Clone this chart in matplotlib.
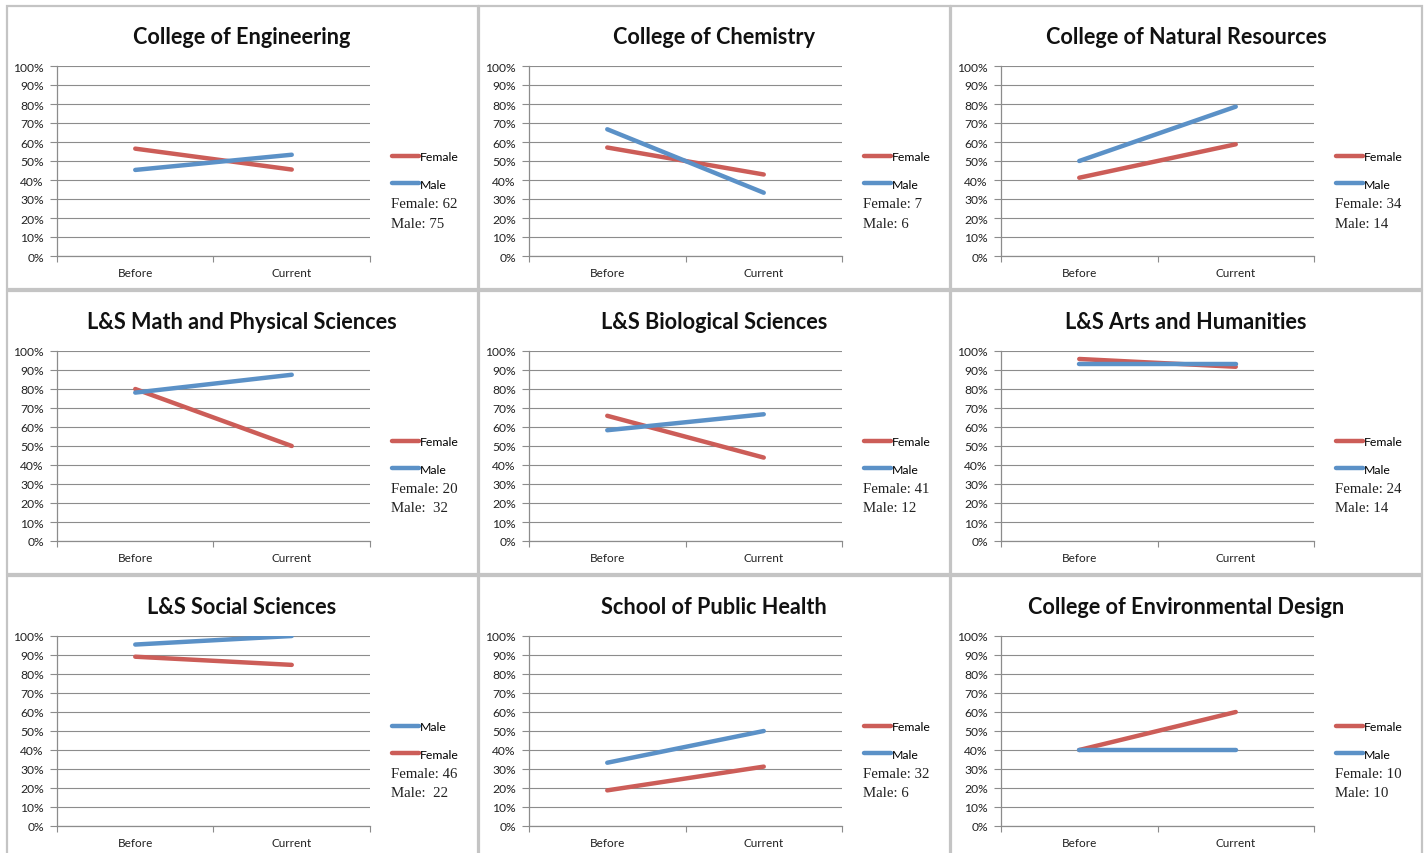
import matplotlib
matplotlib.use("Agg")
import matplotlib.pyplot as plt
from matplotlib.patches import Rectangle
from matplotlib.lines import Line2D

# Share of each group, before vs. current, per college (fractions 0..1)
periods = ["Before", "Current"]

colleges = [
    "College of Engineering",
    "College of Chemistry",
    "College of Natural Resources",
    "L&S Math and Physical Sciences",
    "L&S Biological Sciences",
    "L&S Arts and Humanities",
    "L&S Social Sciences",
    "School of Public Health",
    "College of Environmental Design",
]

female_share = [
    [0.565, 0.455],
    [0.571, 0.429],
    [0.412, 0.588],
    [0.800, 0.500],
    [0.659, 0.439],
    [0.958, 0.917],
    [0.891, 0.848],
    [0.1875, 0.3125],
    [0.400, 0.600],
]

male_share = [
    [0.453, 0.533],
    [0.667, 0.333],
    [0.500, 0.786],
    [0.781, 0.875],
    [0.583, 0.667],
    [0.929, 0.929],
    [0.955, 1.000],
    [0.333, 0.500],
    [0.400, 0.400],
]

female_count = [62, 7, 34, 20, 41, 24, 46, 32, 10]
male_count = [75, 6, 14, 32, 12, 14, 22, 6, 10]
# Separator between label and count as written in each panel
male_sep = [" ", " ", " ", "  ", " ", " ", "  ", " ", " "]

# Legend order (Social Sciences lists Male first)
legend_order = [
    ["Female", "Male"], ["Female", "Male"], ["Female", "Male"],
    ["Female", "Male"], ["Female", "Male"], ["Female", "Male"],
    ["Male", "Female"], ["Female", "Male"], ["Female", "Male"],
]

RED = "#cc5d58"
BLUE = "#5b91c7"
GRID = "#8c8c8c"
LW = 3.2

W, H = 1427, 854
fig = plt.figure(figsize=(W / 100, H / 100), dpi=100)
fig.patch.set_facecolor("white")

SANS = ["Lato", "DejaVu Sans"]
SERIF = ["Liberation Serif", "DejaVu Serif"]


def fx(px):
    return px / W


def fy(py):
    return 1 - py / H


for i, name in enumerate(colleges):
    r, c = divmod(i, 3)
    ox, oy = 472 * c, 285 * r

    # panel frame
    fig.patches.append(Rectangle((fx(7 + ox), fy(290 + oy)), 471 / W, 283 / H,
                                 transform=fig.transFigure, fill=False,
                                 edgecolor="#c4c4c4", linewidth=1.6, zorder=0))

    fig.text(fx(242 + ox), fy(37.5 + oy), name, ha="center", va="center",
             fontsize=15.6, fontweight="bold", family=SANS, color="#111111")

    left, right, top, bottom = 57 + ox, 370 + ox, 67 + oy, 257 + oy
    ax = fig.add_axes([fx(left), fy(bottom), (right - left) / W, (bottom - top) / H])

    xs = [0.5, 1.5]
    lines = {}
    lines["Female"], = ax.plot(xs, female_share[i], color=RED, lw=LW,
                               solid_capstyle="round", zorder=3)
    lines["Male"], = ax.plot(xs, male_share[i], color=BLUE, lw=LW,
                             solid_capstyle="round", zorder=3)
    if legend_order[i][0] == "Male":
        lines["Female"].set_zorder(4)

    ax.set_xlim(0, 2)
    ax.set_ylim(0, 1)
    ax.set_yticks([k / 10 for k in range(11)])
    ax.set_yticklabels([f"{k * 10}%" for k in range(11)])
    ax.set_xticks([0, 1, 2])
    ax.set_xticklabels([])
    ax.set_xticks(xs, minor=True)
    ax.set_xticklabels(periods, minor=True)
    ax.tick_params(axis="x", which="minor", length=0, pad=8)
    ax.tick_params(axis="x", which="major", length=4, color=GRID, direction="out")
    ax.tick_params(axis="y", length=5, color=GRID, pad=4.5)
    for lab in ax.get_yticklabels():
        lab.set_family(SANS)
        lab.set_fontsize(8.7)
        lab.set_color("#222222")
    for lab in ax.get_xticklabels(minor=True):
        lab.set_family(SANS)
        lab.set_fontsize(8.5)
        lab.set_color("#222222")
    ax.grid(axis="y", color=GRID, lw=0.8)
    ax.set_axisbelow(True)
    for s in ["top", "right"]:
        ax.spines[s].set_visible(False)
    for s in ["left", "bottom"]:
        ax.spines[s].set_color(GRID)
        ax.spines[s].set_linewidth(0.9)
    ax.patch.set_alpha(0)

    handles = [Line2D([], [], color=lines[k].get_color(), lw=LW,
                      solid_capstyle="round") for k in legend_order[i]]
    fig.legend(handles, legend_order[i], loc="upper left",
               bbox_to_anchor=(fx(392 + ox), fy(152 + oy)),
               frameon=False, handlelength=2.2, handletextpad=0.1,
               labelspacing=1.37, borderpad=0.0, borderaxespad=0.0,
               prop={"family": SANS, "size": 8.8})

    fig.text(fx(391 + ox), fy(205 + oy), f"Female: {female_count[i]}",
             ha="left", va="center", fontsize=10.7, family=SERIF, color="#222222")
    fig.text(fx(391 + ox), fy(224 + oy), f"Male:{male_sep[i]}{male_count[i]}",
             ha="left", va="center", fontsize=10.7, family=SERIF, color="#222222")

fig.savefig("out.png", dpi=100)
